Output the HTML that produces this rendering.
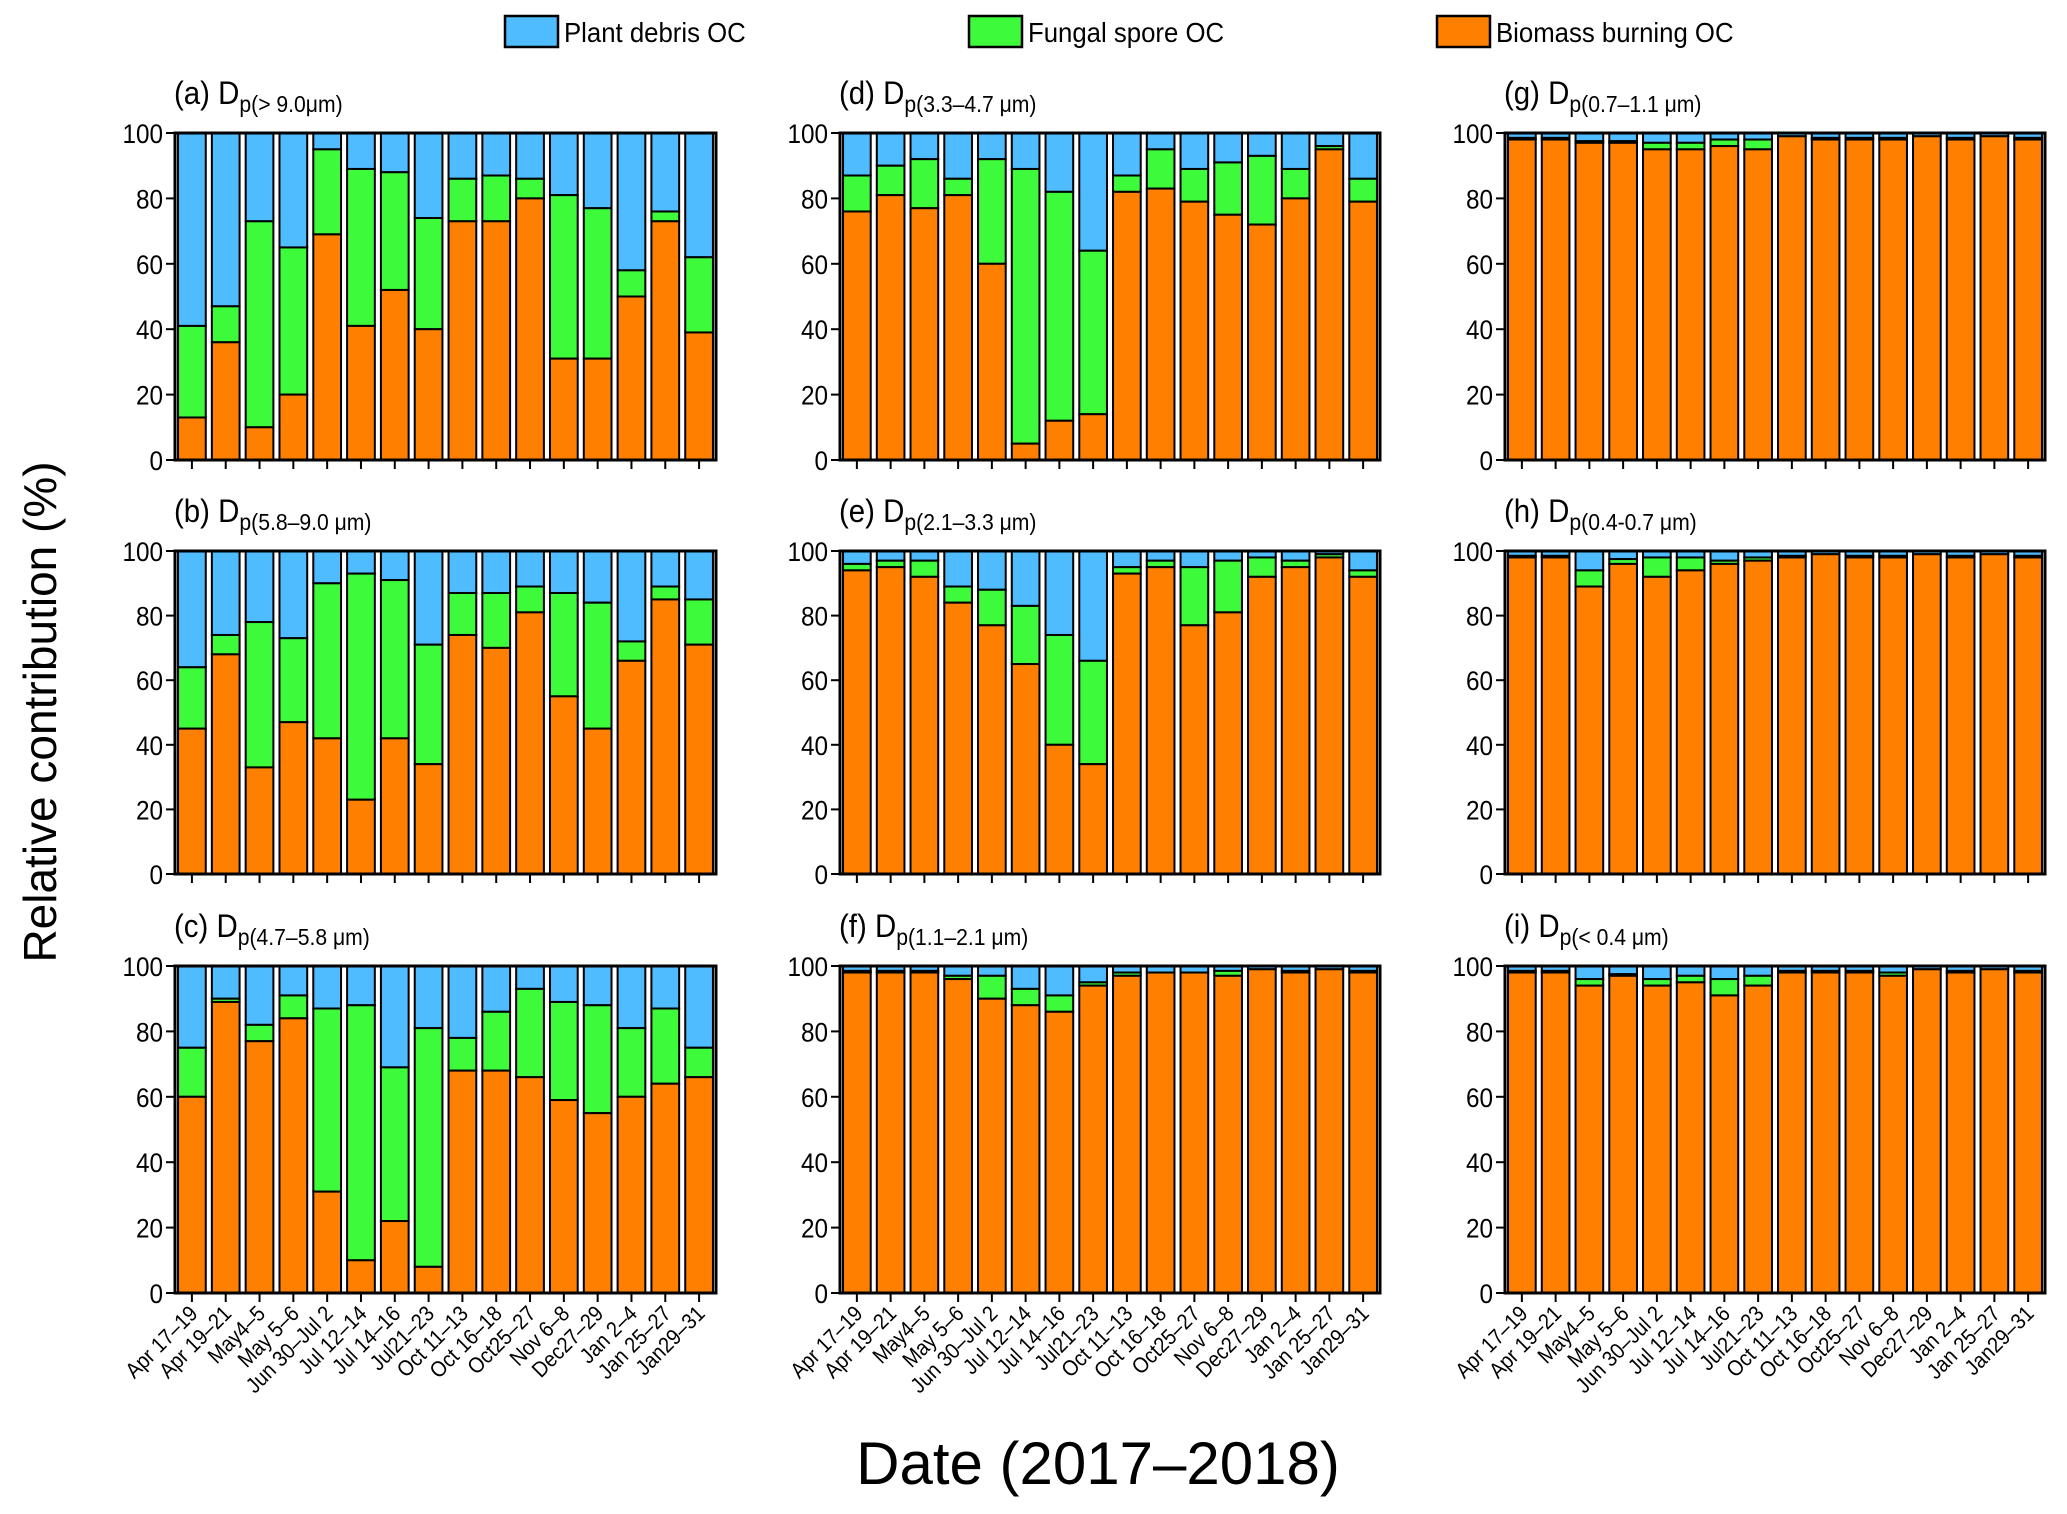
<!DOCTYPE html>
<html><head><meta charset="utf-8"><style>
html,body{margin:0;padding:0;background:#fff;}
svg{display:block;font-family:"Liberation Sans",Arial,sans-serif;}
</style></head><body>
<svg id="chart" width="2067" height="1514" viewBox="0 0 2067 1514"></svg>
<script>
const categories = ["Apr 17–19","Apr 19–21","May4–5","May 5–6","Jun 30–Jul 2","Jul 12–14","Jul 14–16","Jul21–23","Oct 11–13","Oct 16–18","Oct25–27","Nov 6–8","Dec27–29","Jan 2–4","Jan 25–27","Jan29–31"];
const yTicks = [0,20,40,60,80,100];
const panelLetters = ["a","b","c","d","e","f","g","h","i"];
const panelRanges = ["> 9.0μm","5.8–9.0 μm","4.7–5.8 μm","3.3–4.7 μm","2.1–3.3 μm","1.1–2.1 μm","0.7–1.1 μm","0.4-0.7 μm","< 0.4 μm"];
// biomass burning OC (%)
const bioA=[13,36,10,20,69,41,52,40,73,73,80,31,31,50,73,39];
const bioB=[45,68,33,47,42,23,42,34,74,70,81,55,45,66,85,71];
const bioC=[60,89,77,84,31,10,22,8,68,68,66,59,55,60,64,66];
const bioD=[76,81,77,81,60,5,12,14,82,83,79,75,72,80,95,79];
const bioE=[94,95,92,84,77,65,40,34,93,95,77,81,92,95,98,92];
const bioF=[98,98,98,96,90,88,86,94,97,98,98,97,99,98,99,98];
const bioG=[98,98,97,97,95,95,96,95,99,98,98,98,99,98,99,98];
const bioH=[98,98,89,96,92,94,96,97,98,99,98,98,99,98,99,98];
const bioI=[98,98,94,97,94,95,91,94,98,98,98,97,99,98,99,98];
// fungal spore OC (%)
const funA=[28,11,63,45,26,48,36,34,13,14,6,50,46,8,3,23];
const funB=[19,6,45,26,48,70,49,37,13,17,8,32,39,6,4,14];
const funC=[15,1,5,7,56,78,47,73,10,18,27,30,33,21,23,9];
const funD=[11,9,15,5,32,84,70,50,5,12,10,16,21,9,1,7];
const funE=[2,2,5,5,11,18,34,32,2,2,18,16,6,2,1,2];
const funF=[0.5,0.5,0.5,1,7,5,5,1,1,0,0,1.5,0,0.5,0,0.5];
const funG=[0.5,0.5,0.5,0.5,2,2,2,3,0,0.5,0.5,0.5,0,0.5,0,0.5];
const funH=[0.5,0.5,5,1.5,6,4,1,1,0.5,0,0.5,0.5,0,0.5,0,0.5];
const funI=[0.5,0.5,2,0.5,2,2,5,3,0.5,0.5,0.5,1,0,0.5,0,0.5];
const bios=[bioA,bioB,bioC,bioD,bioE,bioF,bioG,bioH,bioI];
const funs=[funA,funB,funC,funD,funE,funF,funG,funH,funI];

const NS="http://www.w3.org/2000/svg";
const svg=document.getElementById("chart");
function mk(tag,attrs,parent){const e=document.createElementNS(NS,tag);for(const k in attrs)e.setAttribute(k,attrs[k]);(parent||svg).appendChild(e);return e;}
const colX=[[175,716],[840,1380],[1505,2045]];
const rowY=[[133,460],[551,874],[966,1293]];
const C_BLUE="#4fbcff",C_GREEN="#3dfa3b",C_OR="#ff8000";

for(let p=0;p<9;p++){
  const col=Math.floor(p/3),row=p%3;
  const x0=colX[col][0],x1=colX[col][1],yT=rowY[row][0],yB=rowY[row][1];
  const g=mk("g",{});
  
  
  const n=categories.length,slot=(x1-x0)/n,bw=slot*0.82;
  const xs=i=>x0+slot*(i+0.5);
  const ys=v=>yB-(yB-yT)*v/100;
  for(let i=0;i<n;i++){
    const b=bios[p][i],f=funs[p][i];
    const bx=xs(i)-bw/2;
    const r1=mk("rect",{x:bx,y:ys(100),width:bw,height:ys(b+f)-ys(100),fill:C_BLUE,stroke:"#000","stroke-width":2},g);
    
    
    const r2=mk("rect",{x:bx,y:ys(b+f),width:bw,height:ys(b)-ys(b+f),fill:C_GREEN,stroke:"#000","stroke-width":2},g);
    
    
    const r3=mk("rect",{x:bx,y:ys(b),width:bw,height:yB-ys(b),fill:C_OR,stroke:"#000","stroke-width":2},g);
    
    
    mk("line",{x1:xs(i),x2:xs(i),y1:yB,y2:yB+9,stroke:"#000","stroke-width":2},g);
    if(row===2){
      const t=mk("text",{x:0,y:0,"font-size":22,"text-anchor":"end",transform:`translate(${xs(i)+7},${yB+22}) rotate(-45) scale(0.9,1)`},g);
      t.textContent=categories[i];
      
      
    }
  }
  const fr=mk("rect",{x:x0,y:yT,width:x1-x0,height:yB-yT,fill:"none",stroke:"#000","stroke-width":3},g);
  
  
  for(const v of yTicks){
    mk("line",{x1:x0-9,x2:x0,y1:ys(v),y2:ys(v),stroke:"#000","stroke-width":2},g);
    const t=mk("text",{x:0,y:0,"font-size":27,"text-anchor":"end",transform:`translate(${x0-12},${ys(v)+10}) scale(0.9,1)`},g);
    t.textContent=v;
    
    
  }
  const tt=mk("text",{x:0,y:0,"font-size":32,transform:`translate(${x0-1},${yT-29}) scale(0.92,1)`},g);
  
  
  const s1=mk("tspan",{},tt);s1.textContent="("+panelLetters[p]+") D";
  const s2=mk("tspan",{"font-size":23,dy:8},tt);s2.textContent="p("+panelRanges[p]+")";
}
// legend
const legend=[["Plant debris OC",C_BLUE,505],["Fungal spore OC",C_GREEN,969],["Biomass burning OC",C_OR,1437]];
for(const [lab,c,x] of legend){
  const r=mk("rect",{x:x,y:16,width:53,height:31,fill:c,stroke:"#000","stroke-width":2.5});
  
  
  const t=mk("text",{x:0,y:0,"font-size":28,transform:`translate(${x+59},${42}) scale(0.92,1)`});
  t.textContent=lab;
  
  
}
const yl=mk("text",{x:0,y:0,"font-size":46,"text-anchor":"middle",transform:"translate(56,712) rotate(-90)"});
yl.textContent="Relative contribution (%)";


const xl=mk("text",{x:1098,y:1484,"font-size":60,"text-anchor":"middle"});
xl.textContent="Date (2017–2018)";


</script>
</body></html>
